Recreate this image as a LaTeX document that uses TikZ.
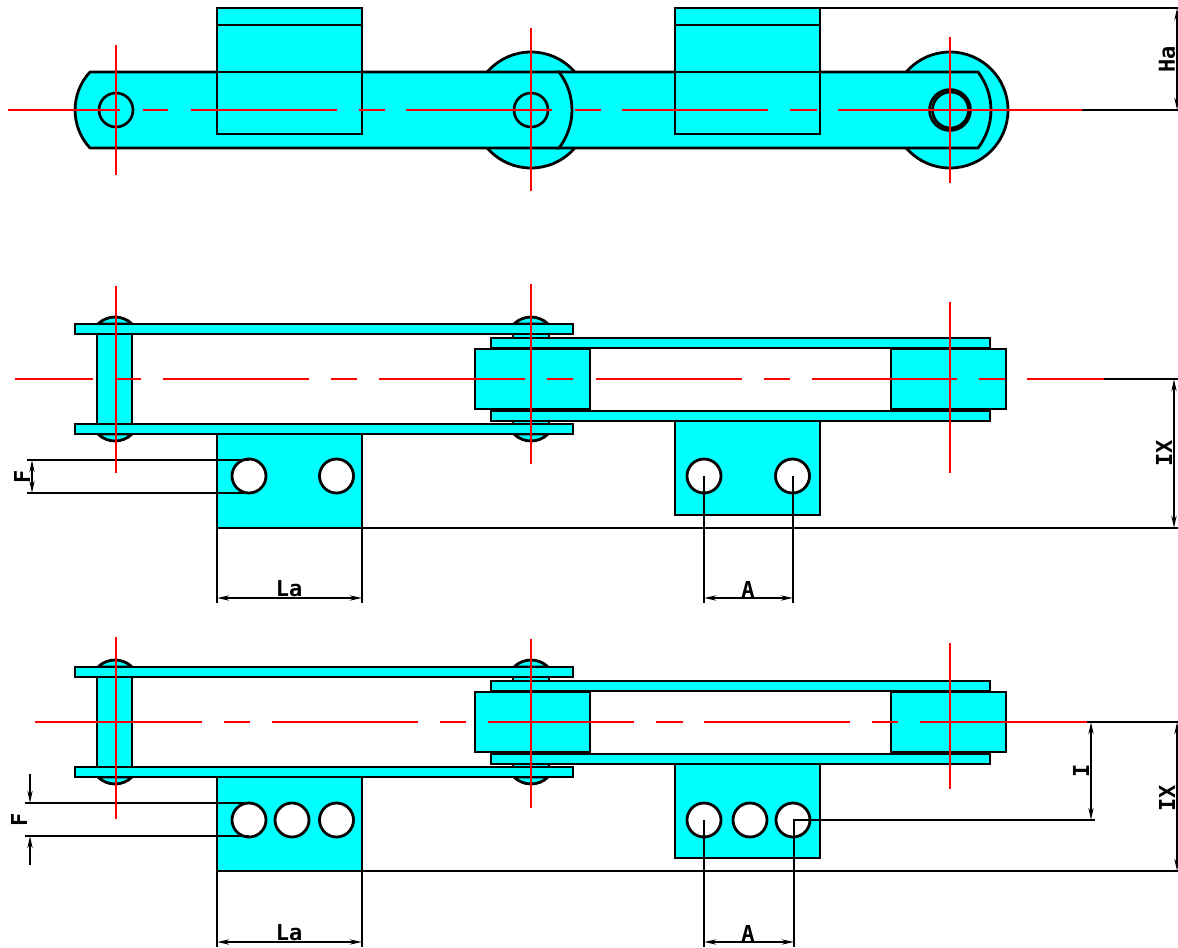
\documentclass[tikz,border=0pt]{standalone}
\usepackage{fontspec}
\setmainfont{DejaVu Sans Mono}
\usetikzlibrary{arrows.meta}
\definecolor{cy}{RGB}{0,255,255}
\tikzset{
  part/.style={draw=black,fill=cy,line width=2.1pt,line join=miter},
  head/.style={draw=black,fill=cy,line width=2.1pt,line join=bevel},
  hole/.style={draw=black,fill=white,line width=2.1pt},
  ln/.style={draw=black,line width=2pt},
  cl/.style={draw=red,line width=2.1pt},
  dim/.style={draw=black,line width=1.6pt,{Stealth[length=9pt,width=3.8pt]}-{Stealth[length=9pt,width=3.8pt]}},
  tip/.style={draw=black,line width=1.6pt,-{Stealth[length=9pt,width=3.8pt]}},
  lab/.style={font=\fontsize{16.5}{16.5}\selectfont\bfseries,inner sep=0pt,text=black}
}
\newcommand{\sideview}{%
  % pin heads
  \foreach \cx in {115,531}{
    \filldraw[head] (\cx-17,324) .. controls (\cx-8,314.7) and (\cx+8,314.7) .. (\cx+17,324) -- cycle;
    \filldraw[head] (\cx-17,434) .. controls (\cx-8,443.3) and (\cx+8,443.3) .. (\cx+17,434) -- cycle;
  }
  \filldraw[part] (97,334) rectangle (132,424);
  \filldraw[part] (513,334) rectangle (549,338);
  \filldraw[part] (513,420) rectangle (549,424);
  % inner plates and bushings
  \filldraw[part] (491,338) rectangle (990,348);
  \filldraw[part] (491,411) rectangle (990,421);
  \filldraw[part] (475,349) rectangle (590,409);
  \filldraw[part] (891,349) rectangle (1006,409);
  % outer plates
  \filldraw[part] (75,324) rectangle (573,334);
  \filldraw[part] (75,424) rectangle (573,434);
}
\begin{document}
\begin{tikzpicture}[x=0.75pt,y=-0.75pt]
\useasboundingbox (0,0) rectangle (1178,947);

% ===== top view =====
\filldraw[part] (531,110) circle (58);
\filldraw[part] (950,110) circle (58);
\filldraw[part] (557,72) -- (978,72) .. controls (995.3,94.4) and (995.3,125.6) .. (978,148) -- (557,148) -- cycle;
\filldraw[head] (90,72) -- (559,72) .. controls (576.3,94.4) and (576.3,125.6) .. (559,148) -- (90,148) .. controls (70.1,126.7) and (70.1,93.3) .. (90,72) -- cycle;
\foreach \ax in {217,675}{
  \filldraw[part] (\ax,8) rectangle (\ax+145,134);
  \draw[ln] (\ax,25) -- (\ax+145,25);
  \draw[ln] (\ax,72) -- (\ax+145,72);
}
\draw[ln] (116,110) circle (17);
\draw[ln] (531,110) circle (17);
\draw[ln] (950,110) circle (20.5);
\draw[ln] (950.5,110) circle (18);
\draw[ln] (820,8) -- (1178,8);
\draw[ln] (1082,110) -- (1178,110);
\draw[dim] (1177,8) -- (1177,110);
\node[lab,rotate=90] (ha) at (1167,59) {Ha};
\foreach \a/\b in {8/120,143/168,191/337,359/385,406/552,575/601,622/768,790/817,838/1082}
  \draw[cl] (\a,110) -- (\b,110);
\draw[cl] (116,45) -- (116,175);
\draw[cl] (531,28) -- (531,191);
\draw[cl] (950,37) -- (950,183);

% ===== middle view =====
\sideview
\filldraw[part] (217,434) rectangle (362,528);
\filldraw[part] (675,421) rectangle (820,515);
\filldraw[hole] (249,476) circle (17);
\filldraw[hole] (336.5,476) circle (17);
\filldraw[hole] (704,476) circle (17);
\filldraw[hole] (792.5,476) circle (17);
\draw[ln] (27,460) -- (249,460);
\draw[ln] (27,493) -- (249,493);
\draw[dim] (32,460) -- (32,493);
\node[lab,rotate=90] (f1) at (22,477) {F};
\draw[ln] (217,528) -- (217,603);
\draw[ln] (362,434) -- (362,603);
\draw[ln] (362,528) -- (1178,528);
\draw[dim] (217,598) -- (362,598);
\node[lab] (la1) at (289,589) {La};
\draw[ln] (704,476) -- (704,603);
\draw[ln] (793,476) -- (793,603);
\draw[dim] (704,598) -- (793,598);
\node[lab] (a1) at (748,589) {A};
\draw[ln] (1104,379) -- (1178,379);
\draw[dim] (1174,379) -- (1174,528);
\node[lab,rotate=90] (ix1) at (1164,453) {IX};
\foreach \a/\b in {15/93,117/141,163/309,331/357,379/525,547/573,596/742,764/790,812/957,979/1005,1027/1104}
  \draw[cl] (\a,379) -- (\b,379);
\draw[cl] (116,286) -- (116,473);
\draw[cl] (531,284) -- (531,464);
\draw[cl] (950,302) -- (950,473);

% ===== bottom view =====
\begin{scope}[shift={(0,343)}]
\sideview
\end{scope}
\filldraw[part] (217,777) rectangle (362,871);
\filldraw[part] (675,764) rectangle (820,858);
\foreach \hx in {249,292,336.5,704,750,793}
  \filldraw[hole] (\hx,820) circle (17);
\draw[ln] (25,803) -- (249,803);
\draw[ln] (25,836) -- (249,836);
\draw[tip] (30,774) -- (30,803);
\draw[tip] (30,865) -- (30,836);
\node[lab,rotate=90] (f2) at (19,820) {F};
\draw[ln] (217,871) -- (217,947);
\draw[ln] (362,777) -- (362,947);
\draw[ln] (362,871) -- (1178,871);
\draw[dim] (217,942) -- (362,942);
\node[lab] (la2) at (289,933) {La};
\draw[ln] (704,820) -- (704,947);
\draw[ln] (794,947) -- (794,820) -- (1095,820);
\draw[dim] (704,942) -- (794,942);
\node[lab] (a2) at (748,933) {A};
\draw[ln] (1087,722) -- (1178,722);
\draw[dim] (1091,722) -- (1091,820);
\node[lab,rotate=90] (i2) at (1081,771) {I};
\draw[dim] (1177,722) -- (1177,871);
\node[lab,rotate=90] (ix2) at (1167,798) {IX};
\foreach \a/\b in {35/202,224/250,272/418,440/466,488/634,656/683,704/850,872/898,920/1087}
  \draw[cl] (\a,722) -- (\b,722);
\draw[cl] (116,637) -- (116,819);
\draw[cl] (531,639) -- (531,808);
\draw[cl] (950,643) -- (950,789);
\end{tikzpicture}
\end{document}
